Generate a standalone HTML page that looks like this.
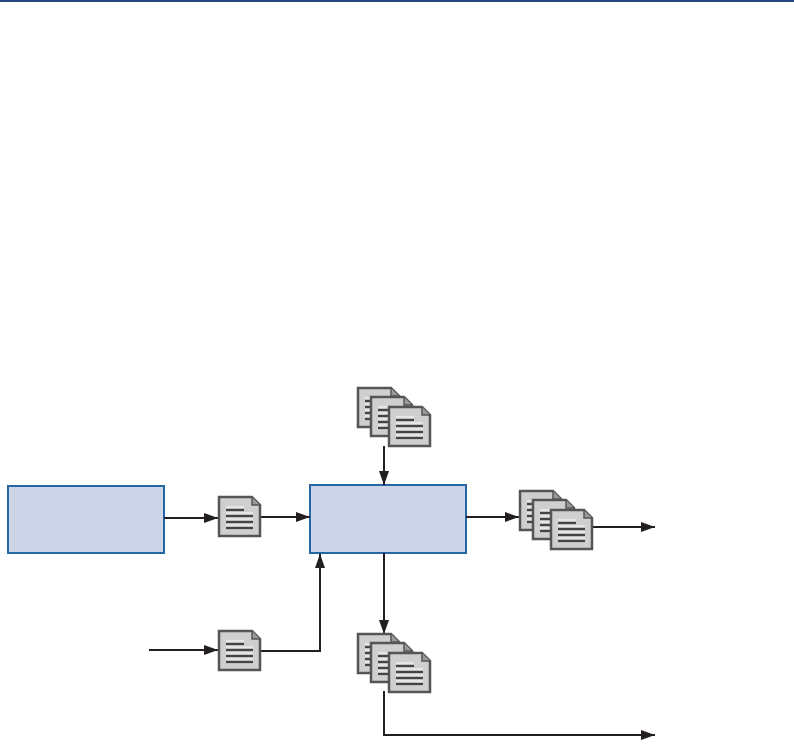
<!DOCTYPE html><html><head><style>body{margin:0;background:#fff}</style></head><body>
<svg width="794" height="750" xmlns="http://www.w3.org/2000/svg">
<defs>
<marker id="a" markerWidth="14" markerHeight="10" refX="14" refY="5" orient="auto" markerUnits="userSpaceOnUse"><path d="M0,0 L14,5 L0,10 z" fill="#231f20"/></marker>
<g id="d">
<path d="M0,0 H33 L41,8 V39 H0 Z" fill="#cfcfcf" stroke="#555" stroke-width="2.5"/>
<path d="M33,0 V8 H41" fill="#999" stroke="#555" stroke-width="1.5"/>
<g stroke="#444" stroke-width="2.2"><line x1="7" y1="13" x2="25" y2="13"/><line x1="7" y1="19" x2="34" y2="19"/><line x1="7" y1="25" x2="34" y2="25"/><line x1="7" y1="31" x2="34" y2="31"/></g>
<g stroke="#eee" stroke-width="1.5"><line x1="7" y1="10" x2="25" y2="10"/><line x1="7" y1="16" x2="34" y2="16"/><line x1="7" y1="22" x2="34" y2="22"/><line x1="7" y1="28" x2="34" y2="28"/></g>
</g>
<g id="s"><use href="#d" x="0" y="0"/><use href="#d" x="13" y="9"/><use href="#d" x="31" y="19"/></g>
</defs>
<rect x="0" y="0" width="794" height="2" fill="#26477f"/>
<rect x="8" y="486" width="156" height="67" fill="#cdd6e8" stroke="#2566a5" stroke-width="2"/>
<rect x="310" y="485" width="156" height="68" fill="#cdd6e8" stroke="#2566a5" stroke-width="2"/>
<g stroke="#231f20" stroke-width="2" fill="none">
<line x1="164" y1="518" x2="218" y2="518" marker-end="url(#a)"/>
<line x1="260" y1="517" x2="310" y2="517" marker-end="url(#a)"/>
<line x1="466" y1="517" x2="519" y2="517" marker-end="url(#a)"/>
<line x1="592" y1="527" x2="655" y2="527" marker-end="url(#a)"/>
<line x1="384" y1="446" x2="384" y2="485" marker-end="url(#a)"/>
<line x1="384" y1="553" x2="384" y2="634" marker-end="url(#a)"/>
<polyline points="384,691 384,735 655,735" marker-end="url(#a)"/>
<line x1="149" y1="650" x2="218" y2="650" marker-end="url(#a)"/>
<polyline points="260,651 320,651 320,554" marker-end="url(#a)"/>
</g>
<use href="#d" x="219" y="497"/>
<use href="#d" x="219" y="631"/>
<use href="#s" x="358" y="388"/>
<use href="#s" x="520" y="491"/>
<use href="#s" x="358" y="634"/>
</svg></body></html>
